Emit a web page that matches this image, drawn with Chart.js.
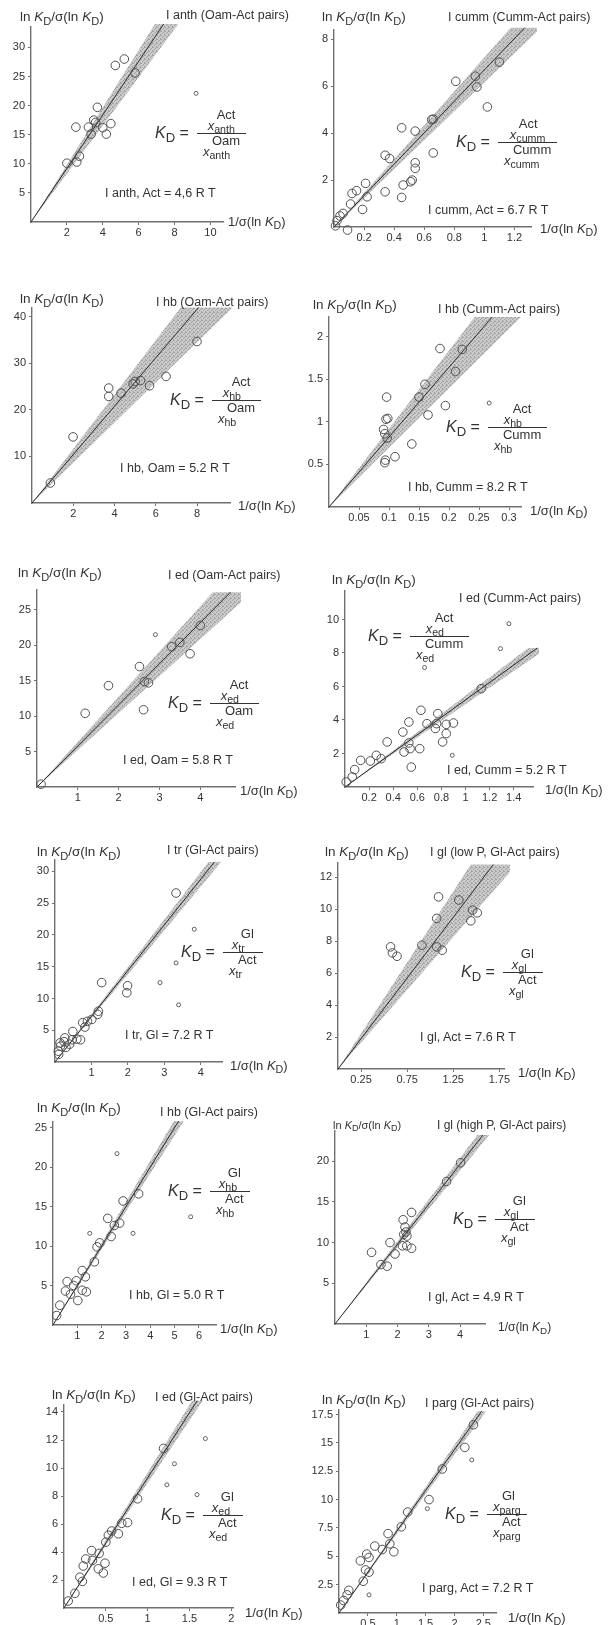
<!DOCTYPE html>
<html>
<head>
<meta charset="utf-8">
<script src="https://cdn.jsdelivr.net/npm/chart.js@4.4.1/dist/chart.umd.min.js"></script>
<style>
	body { margin: 0; background: #fff; width: 609px; height: 1625px; position: relative; overflow: hidden;
		font-family: "Liberation Sans", Arial, Helvetica, sans-serif; color: #333; }
	canvas { position: absolute; }
	.t { position: absolute; white-space: nowrap; line-height: 1; transform: translateY(-50%); }
	.t sub, .kd sub { font-size: 0.82em; vertical-align: -0.32em; line-height: 0; }
	.kd { position: absolute; display: flex; align-items: center; transform: translateY(-50%); font-size: 13px; white-space: nowrap; }
	.kd .lhs { font-size: 16px; margin-right: 8px; }
	.kd .fr { display: flex; flex-direction: column; align-items: center; padding: 0 6px; }
	.kd .fl { display: flex; flex-direction: column; align-items: flex-start; line-height: 11px; }
	.kd .sp { padding-left: 9px; }
	.kd .bar { align-self: stretch; border-top: 1px solid #333; margin: 2px -6px 1px; }
</style>
</head>
<body>
<script>
/* ---------- point data, read per panel as [x, y] ---------- */
// I anth (Oam-Act pairs)
const anthPts = [[5.2, 28.0], [4.7, 26.9], [5.8, 25.6], [3.7, 19.7], [3.5, 17.5], [3.6, 17.1], [3.2, 16.3],
	[2.5, 16.3], [4.0, 16.2], [4.45, 16.9], [4.2, 15.1], [3.35, 15.1], [2.7, 11.3], [2.55, 10.3], [2.0, 10.1]];
const anthOut = [[9.2, 22.1]];

// I cumm (Cumm-Act pairs)
const cummPts = [[1.10, 7.03], [0.94, 6.43], [0.81, 6.21], [0.95, 5.97], [1.02, 5.12], [0.65, 4.58], [0.66, 4.6],
	[0.45, 4.23], [0.54, 4.09], [0.66, 3.16], [0.34, 3.06], [0.37, 2.92], [0.54, 2.74], [0.54, 2.5], [0.52, 2.0],
	[0.51, 1.93], [0.46, 1.79], [0.21, 1.86], [0.15, 1.55], [0.12, 1.43], [0.34, 1.5], [0.22, 1.29], [0.45, 1.26],
	[0.11, 0.98], [0.19, 0.75], [0.06, 0.58], [0.04, 0.47], [0.02, 0.27], [0.01, 0.05], [0.09, -0.13]];
const cummOut = [];

// I hb (Oam-Act pairs)
const hbOamPts = [[8.0, 34.7], [6.5, 27.2], [5.7, 25.2], [5.26, 26.3], [5.0, 26.1], [4.9, 25.6], [4.32, 23.6],
	[3.72, 24.7], [3.72, 22.9], [1.99, 14.2], [0.89, 4.3]];
const hbOamOut = [];

// I hb (Cumm-Act pairs)
const hbCummPts = [[0.185, 1.86], [0.222, 1.85], [0.211, 1.59], [0.16, 1.44], [0.15, 1.29], [0.096, 1.29],
	[0.194, 1.19], [0.165, 1.08], [0.098, 1.04], [0.095, 1.03], [0.091, 0.91], [0.093, 0.86], [0.097, 0.81],
	[0.138, 0.74], [0.11, 0.59], [0.094, 0.55], [0.093, 0.52]];
const hbCummOut = [[0.267, 1.22]];

// I ed (Oam-Act pairs)
const edOamPts = [[4.0, 22.8], [3.5, 20.4], [3.3, 19.8], [3.75, 18.8], [2.51, 17.0], [2.63, 14.9], [2.73, 14.7],
	[1.75, 14.3], [2.61, 10.9], [1.18, 10.4], [0.1, 0.4]];
const edOamOut = [[2.9, 21.5]];

// I ed (Cumm-Act pairs)
const edCummPts = [[1.13, 5.87], [0.63, 4.58], [0.77, 4.38], [0.53, 3.88], [0.68, 3.78], [0.76, 3.78], [0.84, 3.74],
	[0.9, 3.82], [0.75, 3.49], [0.48, 3.28], [0.84, 3.19], [0.35, 2.69], [0.53, 2.63], [0.81, 2.69], [0.49, 2.09],
	[0.54, 2.29], [0.62, 2.29], [0.26, 1.89], [0.21, 1.55], [0.3, 1.69], [0.13, 1.59], [0.08, 1.04], [0.06, 0.6],
	[0.01, 0.3], [0.55, 1.19]];
const edCummOut = [[1.36, 9.75], [1.29, 8.26], [0.66, 7.13], [0.89, 1.89]];

// I tr (Gl-Act pairs)
const trPts = [[3.32, 26.6], [1.28, 12.5], [1.99, 12.0], [1.97, 10.9], [1.19, 8.0], [1.17, 7.5], [1.01, 6.7],
	[0.89, 6.4], [0.76, 6.2], [0.82, 5.5], [0.49, 4.8], [0.27, 3.8], [0.47, 3.5], [0.6, 3.6], [0.7, 3.5],
	[0.14, 3.0], [0.09, 1.7], [0.15, 2.5], [0.3, 2.3], [0.4, 2.8], [0.1, 1.2], [0.25, 3.2]];
const trOut = [[3.82, 20.9], [3.32, 15.6], [2.88, 12.5], [3.39, 9.0]];

// I gl (low P, Gl-Act pairs)
const glLowPts = [[1.09, 10.78], [1.31, 10.58], [1.07, 9.43], [1.46, 9.95], [1.51, 9.78], [1.44, 9.28], [0.91, 7.75],
	[1.07, 7.65], [1.13, 7.44], [0.57, 7.65], [0.59, 7.27], [0.64, 7.06]];
const glLowOut = [];

// I hb (Gl-Act pairs)
const hbGlPts = [[3.52, 16.6], [2.88, 15.7], [2.25, 13.5], [2.74, 12.9], [2.52, 12.6], [2.39, 11.2], [1.92, 10.4],
	[1.81, 9.9], [1.7, 8.0], [1.2, 6.9], [1.33, 6.1], [0.96, 5.6], [0.58, 5.5], [0.85, 5.0], [0.51, 4.3],
	[0.72, 3.9], [1.2, 4.4], [1.37, 4.2], [1.02, 3.1], [0.28, 2.5], [0.15, 1.2]];
const hbGlOut = [[2.63, 21.7], [5.66, 13.7], [1.51, 11.6], [3.29, 11.6]];

// I gl (high P, Gl-Act pairs)
const glHighPts = [[4.02, 19.8], [3.57, 17.5], [2.45, 13.7], [2.18, 12.8], [2.24, 11.9], [2.27, 11.3], [2.2, 11.0],
	[2.3, 10.8], [1.76, 10.0], [2.16, 9.6], [2.3, 9.6], [2.45, 9.3], [1.17, 8.8], [1.92, 8.6], [1.47, 7.3], [1.67, 7.1]];
const glHighOut = [];

// I ed (Gl-Act pairs)
const edGlPts = [[1.19, 11.4], [0.88, 7.8], [0.76, 6.1], [0.69, 6.05], [0.57, 5.5], [0.53, 5.2], [0.65, 5.3],
	[0.5, 4.7], [0.33, 4.1], [0.26, 3.5], [0.34, 3.4], [0.23, 3.0], [0.49, 3.2], [0.41, 2.8], [0.47, 2.5],
	[0.19, 2.2], [0.22, 1.9], [0.13, 1.05], [0.05, 0.5], [0.42, 3.9]];
const edGlOut = [[1.69, 12.1], [1.32, 10.3], [1.23, 8.8], [1.59, 8.1]];

// I parg (Gl-Act pairs)
const pargPts = [[2.33, 16.6], [2.18, 14.6], [1.79, 12.7], [1.56, 10.0], [1.19, 8.9], [1.08, 7.6], [0.85, 7.0],
	[0.88, 6.1], [0.95, 5.4], [0.62, 5.9], [0.75, 5.6], [0.48, 5.2], [0.52, 4.9], [0.37, 4.6], [0.46, 3.8],
	[0.52, 3.6], [0.42, 2.8], [0.17, 2.0], [0.14, 1.6], [0.08, 1.1], [0.03, 0.7]];
const pargOut = [[2.3, 13.5], [1.53, 9.2], [0.52, 1.6]];

/* ---------- fitted slopes (R T units) and band limits as slope factors ---------- */
const slopes = [4.6, 6.7, 5.2, 8.2, 5.8, 5.2, 7.2, 7.6, 5.0, 4.9, 9.3, 7.2];
const bandLo = [0.90, 0.92, 0.83, 0.85, 0.90, 0.95, 0.96, 0.87, 0.96, 0.96, 0.96, 0.97];
const bandHi = [1.07, 1.08, 1.12, 1.12, 1.10, 1.05, 1.04, 1.17, 1.04, 1.04, 1.04, 1.03];

/* ---------- tick labels ---------- */
const xTicks = [
	[2, 4, 6, 8, 10], [0.2, 0.4, 0.6, 0.8, 1, 1.2], [2, 4, 6, 8], [0.05, 0.1, 0.15, 0.2, 0.25, 0.3],
	[1, 2, 3, 4], [0.2, 0.4, 0.6, 0.8, 1, 1.2, 1.4], [1, 2, 3, 4], [0.25, 0.75, 1.25, 1.75],
	[1, 2, 3, 4, 5, 6], [1, 2, 3, 4], [0.5, 1, 1.5, 2], [0.5, 1, 1.5, 2, 2.5]];
const yTicks = [
	[5, 10, 15, 20, 25, 30], [2, 4, 6, 8], [10, 20, 30, 40], [0.5, 1, 1.5, 2],
	[5, 10, 15, 20, 25], [2, 4, 6, 8, 10], [5, 10, 15, 20, 25, 30], [2, 4, 6, 8, 10, 12],
	[5, 10, 15, 20, 25], [5, 10, 15, 20], [2, 4, 6, 8, 10, 12, 14], [2.5, 5, 7.5, 10, 12.5, 15, 17.5]];

/* ---------- panel texts ---------- */
const titles = ['I anth (Oam-Act pairs)', 'I cumm (Cumm-Act pairs)', 'I hb (Oam-Act pairs)', 'I hb (Cumm-Act pairs)',
	'I ed (Oam-Act pairs)', 'I ed (Cumm-Act pairs)', 'I tr (Gl-Act pairs)', 'I gl (low P, Gl-Act pairs)',
	'I hb (Gl-Act pairs)', 'I gl (high P, Gl-Act pairs)', 'I ed (Gl-Act pairs)', 'I parg (Gl-Act pairs)'];
const fitNames = ['I anth, Act', 'I cumm, Act', 'I hb, Oam', 'I hb, Cumm', 'I ed, Oam', 'I ed, Cumm',
	'I tr, Gl', 'I gl, Act', 'I hb, Gl', 'I gl, Act', 'I ed, Gl', 'I parg, Act'];
// [phase subscript, numerator phase, denominator phase]
const ratios = [['anth', 'Act', 'Oam'], ['cumm', 'Act', 'Cumm'], ['hb', 'Act', 'Oam'], ['hb', 'Act', 'Cumm'],
	['ed', 'Act', 'Oam'], ['ed', 'Act', 'Cumm'], ['tr', 'Gl', 'Act'], ['gl', 'Gl', 'Act'],
	['hb', 'Gl', 'Act'], ['gl', 'Gl', 'Act'], ['ed', 'Gl', 'Act'], ['parg', 'Gl', 'Act']];

const series = [[anthPts, anthOut], [cummPts, cummOut], [hbOamPts, hbOamOut], [hbCummPts, hbCummOut],
	[edOamPts, edOamOut], [edCummPts, edCummOut], [trPts, trOut], [glLowPts, glLowOut],
	[hbGlPts, hbGlOut], [glHighPts, glHighOut], [edGlPts, edGlOut], [pargPts, pargOut]];

/* ---------- page layout: origin pixel, px per unit, axis extent, line top, text anchors ---------- */
const layout = [
	{ x0: 31, y0: 222, xs: 17.9, ys: 5.83, xMax: 10.7, yMax: 33.5, top: 34,
		yt: [20, 17], tt: [166, 15], kd: [155, 133], fl: [105, 193], xt: [228, 221], sep: ',' },
	{ x0: 334, y0: 227, xs: 150, ys: 23.5, xMax: 1.31, yMax: 8.4, top: 8.5,
		yt: [322, 17], tt: [448, 17], kd: [456, 142], fl: [428, 210], xt: [540, 228] },
	{ x0: 31.7, y0: 503.2, xs: 20.6, ys: 4.65, xMax: 9.6, yMax: 41.9, top: 42,
		yt: [20, 299], tt: [156, 302], kd: [170, 400], fl: [120, 468], xt: [238, 505] },
	{ x0: 329.3, y0: 507, xs: 600, ys: 85.2, xMax: 0.32, yMax: 2.23, top: 2.23,
		yt: [313, 305], tt: [438, 309], kd: [446, 427], fl: [408, 487], xt: [530, 510] },
	{ x0: 36.6, y0: 787, xs: 40.9, ys: 7.08, xMax: 4.85, yMax: 27.8, top: 27.5,
		yt: [18, 573], tt: [168, 575], kd: [168, 703], fl: [123, 760], xt: [240, 790] },
	{ x0: 345, y0: 786.7, xs: 120.5, ys: 16.75, xMax: 1.56, yMax: 11.7, top: 8.3,
		yt: [332, 580], tt: [459, 598], kd: [368, 636], fl: [447, 770], xt: [545, 789] },
	{ x0: 55, y0: 1062.5, xs: 36.4, ys: 6.36, xMax: 4.58, yMax: 31.8, top: 31.5,
		yt: [37, 852], tt: [167, 850], kd: [181, 952], fl: [125, 1035], xt: [230, 1065] },
	{ x0: 338, y0: 1068.6, xs: 92, ys: 15.94, xMax: 1.8, yMax: 12.9, top: 12.8,
		yt: [325, 852], tt: [430, 852], kd: [461, 972], fl: [420, 1037], xt: [518, 1072] },
	{ x0: 52.5, y0: 1324.4, xs: 24.4, ys: 7.88, xMax: 6.7, yMax: 25.7, top: 25.8,
		yt: [37, 1108], tt: [160, 1112], kd: [168, 1191], fl: [129, 1295], xt: [220, 1328] },
	{ x0: 335, y0: 1324.8, xs: 31.3, ys: 8.16, xMax: 4.8, yMax: 23.7, top: 23.2, small: true,
		yt: [333, 1125], tt: [437, 1125], kd: [453, 1219], fl: [428, 1297], xt: [498, 1327] },
	{ x0: 64, y0: 1608, xs: 83.5, ys: 14.0, xMax: 2.02, yMax: 14.5, top: 14.8,
		yt: [52, 1395], tt: [155, 1397], kd: [161, 1515], fl: [132, 1582], xt: [245, 1612] },
	{ x0: 338.5, y0: 1613.3, xs: 57.6, ys: 11.33, xMax: 2.72, yMax: 17.9, top: 17.8,
		yt: [322, 1400], tt: [425, 1403], kd: [445, 1514], fl: [422, 1588], xt: [508, 1617] }
];

const FONT = '"Liberation Sans", Arial, Helvetica, sans-serif';
const INK = '#333';
const AXIS = '#707070';
const KD = '<i>K</i><sub>D</sub>';

// halftone-like grey for the confidence fan
function stipple(ctx) {
	const c = document.createElement('canvas');
	c.width = 4; c.height = 4;
	const g = c.getContext('2d');
	g.fillStyle = '#cbcbcb';
	g.fillRect(0, 0, 4, 4);
	g.fillStyle = '#a2a2a2';
	[[0, 0], [2, 1], [1, 2], [3, 3], [3, 0]].forEach(([a, b]) => g.fillRect(a, b, 1, 1));
	return ctx.createPattern(c, 'repeat');
}

const bandPlugin = {
	id: 'band',
	beforeDatasetsDraw(chart, args, o) {
		const { ctx, scales: { x, y } } = chart;
		ctx.save();
		ctx.beginPath();
		ctx.moveTo(x.getPixelForValue(0), y.getPixelForValue(0));
		ctx.lineTo(x.getPixelForValue(o.top / (o.slope * o.hi)), y.getPixelForValue(o.top));
		ctx.lineTo(x.getPixelForValue(o.top / (o.slope * o.lo)), y.getPixelForValue(o.top));
		ctx.closePath();
		ctx.fillStyle = stipple(ctx);
		ctx.fill();
		ctx.restore();
	}
};

function text(html, x, y, size) {
	const d = document.createElement('div');
	d.className = 't';
	d.innerHTML = html;
	d.style.left = x + 'px';
	d.style.top = y + 'px';
	d.style.fontSize = size + 'px';
	document.body.appendChild(d);
}

function formula(x, y, [sub, num, den]) {
	const part = sup => `<span class="fl"><span class="sp">${sup}</span><span><i>x</i><sub>${sub}</sub></span></span>`;
	const d = document.createElement('div');
	d.className = 'kd';
	d.innerHTML = `<span class="lhs">${KD} =</span><span class="fr">${part(num)}<span class="bar"></span>${part(den)}</span>`;
	d.style.left = x + 'px';
	d.style.top = y + 'px';
	document.body.appendChild(d);
}

const toXY = arr => arr.map(([x, y]) => ({ x, y }));

layout.forEach((p, i) => {
	const padL = 30, padR = 6, padT = 8, padB = 20;
	const plotW = p.xMax * p.xs;
	const plotH = p.yMax * p.ys;
	const W = Math.round(padL + plotW + padR);
	const H = Math.round(padT + plotH + padB);

	const cv = document.createElement('canvas');
	cv.width = W;
	cv.height = H;
	cv.style.width = W + 'px';
	cv.style.height = H + 'px';
	cv.style.left = Math.round(p.x0 - padL) + 'px';
	cv.style.top = Math.round(p.y0 - plotH - padT) + 'px';
	document.body.appendChild(cv);

	const [pts, out] = series[i];
	const slope = slopes[i];
	const tickFont = { family: FONT, size: 11 };

	new Chart(cv, {
		type: 'scatter',
		data: {
			datasets: [
				{
					data: toXY(pts),
					pointRadius: 4.3,
					pointBorderWidth: 1,
					borderColor: '#505050',
					backgroundColor: 'rgba(0,0,0,0)',
					clip: false
				},
				{
					data: toXY(out),
					pointRadius: 2,
					pointBorderWidth: 1,
					borderColor: '#606060',
					backgroundColor: 'rgba(0,0,0,0)',
					clip: false
				},
				{
					// regression line through the origin
					data: [{ x: 0, y: 0 }, { x: p.top / slope, y: p.top }],
					showLine: true,
					borderColor: '#2a2a2a',
					borderWidth: 1,
					pointRadius: 0,
					clip: false
				}
			]
		},
		options: {
			responsive: false,
			animation: false,
			events: [],
			layout: { padding: { top: padT, right: padR, left: 0, bottom: 0 } },
			plugins: {
				legend: { display: false },
				tooltip: { enabled: false },
				band: { slope: slope, lo: bandLo[i], hi: bandHi[i], top: p.top }
			},
			scales: {
				x: {
					type: 'linear',
					min: 0,
					max: p.xMax,
					afterBuildTicks: ax => { ax.ticks = xTicks[i].map(v => ({ value: v })); },
					afterFit: ax => { ax.height = padB; ax.paddingLeft = 0; ax.paddingRight = 0; },
					border: { color: AXIS, width: 1.4 },
					grid: { drawOnChartArea: false, tickLength: 3, color: AXIS },
					ticks: { autoSkip: false, maxRotation: 0, padding: 1, color: INK, font: tickFont,
						callback: v => String(v) }
				},
				y: {
					type: 'linear',
					min: 0,
					max: p.yMax,
					afterBuildTicks: ax => { ax.ticks = yTicks[i].map(v => ({ value: v })); },
					afterFit: ax => { ax.width = padL; ax.paddingTop = 0; ax.paddingBottom = 0; },
					border: { color: AXIS, width: 1.4 },
					grid: { drawOnChartArea: false, tickLength: 3, color: AXIS },
					ticks: { autoSkip: false, padding: 3, color: INK, font: tickFont,
						callback: v => String(v) }
				}
			}
		},
		plugins: [bandPlugin]
	});

	// labels
	const big = p.small ? 11 : 13.5;
	text(`ln ${KD}/σ(ln ${KD})`, p.yt[0], p.yt[1], big);
	text(titles[i], p.tt[0], p.tt[1], p.small ? 12 : 12.5);
	text(`${fitNames[i]} = ${slope.toFixed(1).replace('.', p.sep || '.')} R T`, p.fl[0], p.fl[1], 12.5);
	text(`1/σ(ln ${KD})`, p.xt[0], p.xt[1], p.small ? 12 : 13);
	formula(p.kd[0], p.kd[1], ratios[i]);
});
</script>
</body>
</html>
